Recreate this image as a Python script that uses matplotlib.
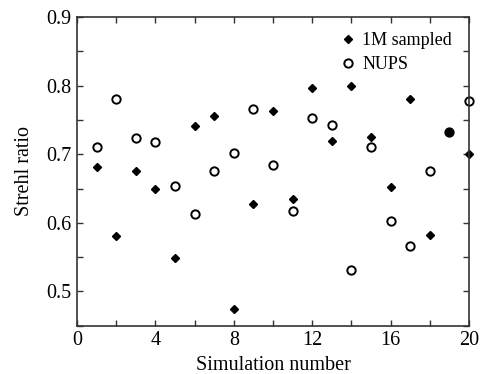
import matplotlib
matplotlib.use("Agg")
import matplotlib.pyplot as plt
from matplotlib.ticker import MultipleLocator

# данные
simNumber = list(range(1, 21))
sampled1M = [0.682, 0.581, 0.676, 0.649, 0.549, 0.741, 0.755, 0.475, 0.627, 0.763,
             0.635, 0.797, 0.719, 0.799, 0.725, 0.652, 0.780, 0.582, 0.733, 0.701]
nups = [0.711, 0.781, 0.723, 0.718, 0.653, 0.613, 0.676, 0.702, 0.766, 0.684,
        0.617, 0.753, 0.742, 0.531, 0.711, 0.602, 0.566, 0.676, 0.733, 0.778]

plt.rcParams['font.family'] = ['Liberation Serif', 'DejaVu Serif']
plt.rcParams['font.size'] = 14.5

fig = plt.figure(figsize=(4.8, 3.74), dpi=100)
ax = fig.add_axes([0.1604, 0.1291, 0.8167, 0.8254])

ax.plot(simNumber, nups, 'o', ls='none', mfc='white', mec='black',
        ms=6, mew=1.4, clip_on=False, label='NUPS')
ax.plot(simNumber, sampled1M, 'D', ls='none', color='black',
        ms=4, clip_on=False, label='1M sampled')

ax.set_xlim(0, 20)
ax.set_ylim(0.45, 0.9)
ax.xaxis.set_major_locator(MultipleLocator(4))
ax.xaxis.set_minor_locator(MultipleLocator(2))
ax.yaxis.set_major_locator(MultipleLocator(0.1))
ax.yaxis.set_minor_locator(MultipleLocator(0.05))
ax.tick_params(which='both', direction='in', top=True, right=True,
               length=4, width=1, color='#333333')
ax.tick_params(axis='x', which='major', pad=4)
ax.tick_params(axis='y', which='major', pad=4)
ax.set_yticks([0.5, 0.6, 0.7, 0.8, 0.9])
ax.set_yticklabels(['0.5', '0.6', '0.7', '0.8', '0.9'])
for s in ax.spines.values():
    s.set_linewidth(1.2)
    s.set_color('#333333')

ax.set_xlabel('Simulation number', labelpad=4)
ax.set_ylabel('Strehl ratio', labelpad=9)

handles, labels = ax.get_legend_handles_labels()
ax.legend(handles[::-1], labels[::-1], loc='upper right', frameon=False,
          fontsize=13, handletextpad=0.3, borderaxespad=0, labelspacing=0.4,
          handlelength=1.0, bbox_to_anchor=(0.975, 0.975))

plt.savefig('out.png', dpi=100)
